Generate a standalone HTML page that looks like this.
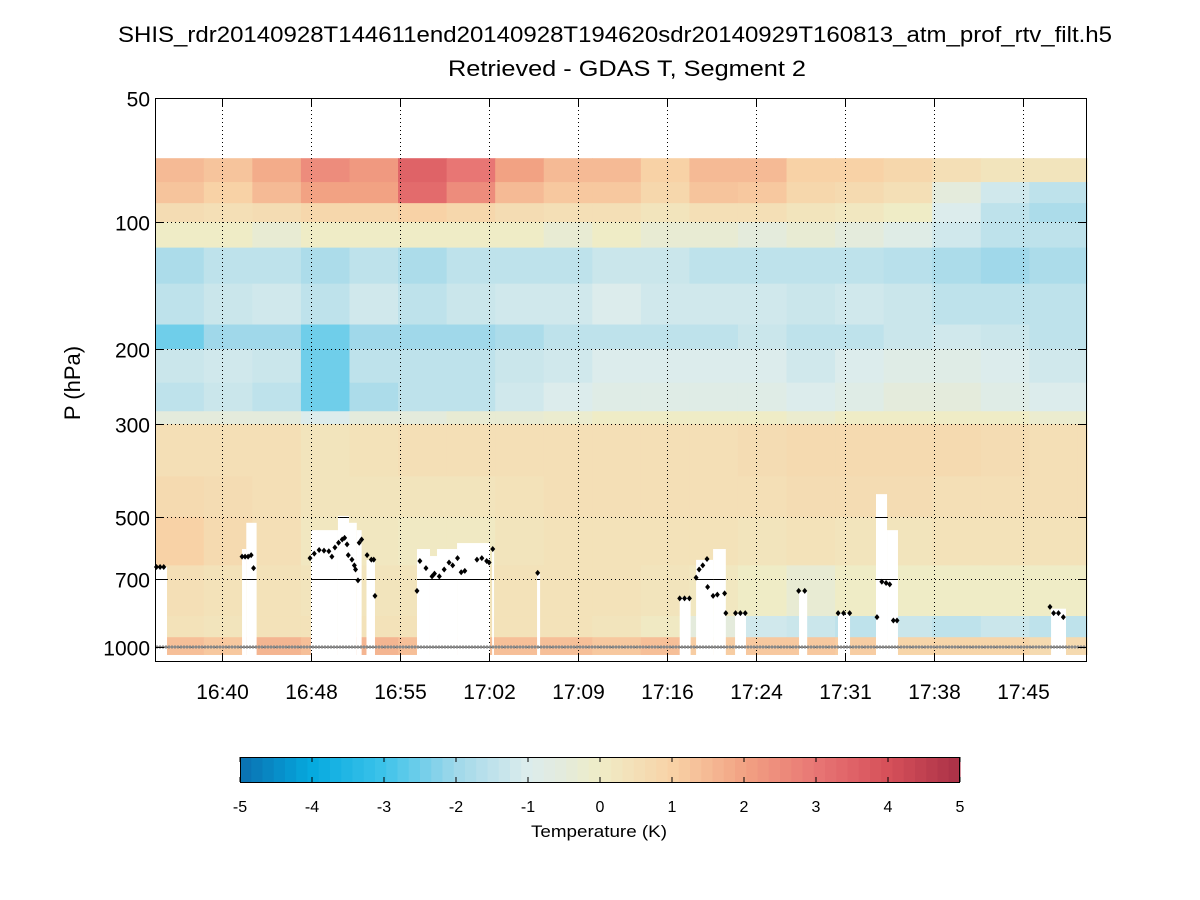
<!DOCTYPE html>
<html><head><meta charset="utf-8"><style>
body{margin:0;background:#fff;}
svg{display:block;font-family:"Liberation Sans",sans-serif;}
</style></head><body>
<svg id="chart" width="1200" height="900" viewBox="0 0 1200 900">
  <text x="615" y="42" font-size="22" text-anchor="middle" textLength="994" lengthAdjust="spacingAndGlyphs">SHIS_rdr20140928T144611end20140928T194620sdr20140929T160813_atm_prof_rtv_filt.h5</text>
  <text x="627" y="76" font-size="22" text-anchor="middle" textLength="358" lengthAdjust="spacingAndGlyphs">Retrieved - GDAS T, Segment 2</text>
  <text x="0" y="0" font-size="22" text-anchor="middle" transform="translate(80,383) rotate(-90)">P (hPa)</text>
  <text x="599" y="837" font-size="17" text-anchor="middle" textLength="136" lengthAdjust="spacingAndGlyphs">Temperature (K)</text>
</svg>
<script>
// ---- data ----
const bandTops    = [70,80,90,100,115,140,175,200,240,280,300,400,500,650,850,950];
const bandBottoms = [80,90,100,115,140,175,200,240,280,300,400,500,650,850,950,1040];
const colStarts = [34.5,38.5,42.5,46.5,50.5,54.5,58.5,62.5,66.5,70.5,74.5,78.5,82.5,86.5,90.5,94.5,98.5,102.5,106.5,110.5];
const vals = [
 [1.5,1.3,1.8,2.5,2.2,3.5,3,2,1.5,1.5,1,1.5,1.5,1,1,0.8,0.5,0.3,0.3,0.3],
 [1.3,1,1.5,2,2,3.3,2.5,1.5,1.2,1.2,0.8,1.3,1.2,0.8,0.7,0.5,-0.5,-1.2,-1.5,-1.5],
 [0.6,0.5,0.6,0.8,0.8,1,0.8,0.6,0.5,0.5,0.3,0.5,0.5,0.3,0.2,0,-1,-1.5,-1.8,-1.8],
 [0,0,-0.3,0,0,0,0,0,-0.3,0,-0.3,-0.3,-0.5,-0.3,-0.5,-0.8,-1.2,-1.5,-1.5,-1.5],
 [-1.8,-1.5,-1.5,-1.8,-1.5,-1.8,-1.5,-1.5,-1.5,-1.3,-1.3,-1.5,-1.5,-1.5,-1.5,-1.6,-1.8,-2,-1.8,-1.8],
 [-1.5,-1.3,-1.2,-1.5,-1.2,-1.5,-1.3,-1.2,-1.2,-1,-1.2,-1.2,-1.2,-1.3,-1.2,-1.3,-1.5,-1.5,-1.5,-1.5],
 [-2.5,-2,-2,-2.5,-2,-2,-2,-1.8,-1.5,-1.5,-1.5,-1.5,-1.3,-1.5,-1.5,-1.3,-1.2,-1.3,-1.5,-1.5],
 [-1.3,-1.2,-1.3,-2.5,-1.5,-1.5,-1.5,-1.3,-1.2,-1,-1,-1,-1,-1.2,-1,-0.8,-0.8,-1,-1.2,-1.2],
 [-1.5,-1.3,-1.5,-2.5,-1.8,-1.5,-1.5,-1.2,-1,-0.8,-0.8,-0.8,-0.8,-1,-0.8,-0.5,-0.5,-0.8,-1,-1],
 [-0.5,-0.5,-0.5,-1,-0.5,-0.5,-0.3,-0.3,-0.2,0,0,0,0,-0.2,0,0,0,0,-0.2,-0.2],
 [0.5,0.5,0.5,0.3,0.4,0.5,0.5,0.5,0.5,0.5,0.5,0.5,0.6,0.7,0.7,0.7,0.7,0.6,0.5,0.5],
 [0.7,0.6,0.5,0.3,0.3,0.3,0.3,0.4,0.5,0.5,0.5,0.5,0.5,0.6,0.6,0.6,0.5,0.5,0.5,0.5],
 [1.0,0.7,0.5,0.2,0.2,0.1,0.1,0.3,0.4,0.4,0.4,0.4,0.3,0.4,0.3,0.3,0.4,0.4,0.4,0.4],
 [0.5,0.4,0.4,0.3,0.3,0.3,0.3,0.4,0.4,0.4,0.3,0.2,0,-0.3,0,0,0,0,0,0],
 [0.4,0.3,0.4,0.4,0.4,0.4,0.4,0.4,0.4,0.3,0.1,-0.5,-1.2,-1.3,-1.5,-1.3,-1.5,-1.3,-1.5,-1.5],
 [1.4,1.2,1.6,1.4,1.6,1.4,1.4,1.4,1.4,1.2,1.4,1.1,1.2,1.2,1.1,0.9,0.9,0.9,0.7,0.7]
];
// cloud masks: start min, end min, cloud-top pressure
const maskStart = [34.48,41.65,42.0,47.33,49.55,50.46,51.1,51.9,56.06,57.13,57.71,59.36,62.25,65.95,77.7,79.05,80.45,82.26,87.53,90.74,93.87,94.78,108.29];
const maskEnd   = [35.47,42.0,42.85,49.55,50.46,51.1,51.5,52.6,57.13,57.71,59.36,62.07,62.4,66.2,78.6,80.45,81.5,83.16,88.2,91.73,94.78,95.68,109.52];
const maskTop   = [656,595,516,537,497,516,537,631,595,618,595,576,595,677,770,631,595,837,749,837,441,537,818];
// cloud-top retrieval points
const dotT = [34.6,34.9,35.2,41.65,41.9,42.15,42.4,42.6,47.25,47.6,48.0,48.4,48.8,49.05,49.3,49.6,49.9,50.1,50.3,50.4,50.7,50.9,51.0,51.2,51.3,51.5,51.95,52.3,52.5,52.6,56.06,56.3,56.8,57.3,57.5,57.9,58.3,58.7,59.0,59.4,59.7,60.0,61.0,61.4,61.8,62.0,62.3,66.0,77.7,78.1,78.5,79.05,79.3,79.6,79.95,80.0,80.45,80.8,81.4,81.5,82.3,82.7,83.1,87.5,88.0,90.75,91.2,91.7,93.95,94.35,94.7,95.0,95.3,95.6,108.2,108.5,108.9,109.3];
const dotP = [656,656,656,620,620,620,615,660,625,610,598,600,602,620,590,575,565,560,580,615,630,650,665,705,575,565,615,630,630,765,745,635,660,690,680,690,665,640,650,625,675,670,630,625,635,640,595,677,775,775,775,695,665,650,628,730,765,760,755,837,837,837,837,745,745,837,837,837,855,710,715,720,870,870,810,837,837,855];
const xTickMin = [40,47.33,54.67,62,69.33,76.67,84,91.33,98.67,106];
const xTickLabels = ["16:40","16:48","16:55","17:02","17:09","17:16","17:24","17:31","17:38","17:45"];
const yTicks = [50,100,200,300,500,700,1000];
const cbTicks = [-5,-4,-3,-2,-1,0,1,2,3,4,5];

// ---- axes ----
const X0=155,X1=1087,Y0=98,Y1=662,T0=34.48,T1=111.25;
const yPix=[98,222,349,424,517,579,647];
function xs(t){return X0+(t-T0)*(X1-X0)/(T1-T0);}
function ys(p){
  const lp=Math.log10(p);
  for(let i=0;i<yTicks.length-1;i++){
    const a=Math.log10(yTicks[i]),b=Math.log10(yTicks[i+1]);
    if(lp<=b||i==yTicks.length-2){return yPix[i]+(lp-a)/(b-a)*(yPix[i+1]-yPix[i]);}
  }
}
const stops=[[-5,[10,111,176]],[-4,[5,170,223]],[-3,[62,195,234]],[-2,[160,216,234]],[-1,[220,236,236]],[-0.5,[228,235,220]],[0,[239,236,198]],[1,[248,210,166]],[2,[242,162,131]],[3,[232,118,116]],[4,[214,80,90]],[5,[170,48,70]]];
function color(v){
  v=Math.max(-4.99,Math.min(4.99,v));
  for(let i=0;i<stops.length-1;i++){
    if(v<=stops[i+1][0]){const f=(v-stops[i][0])/(stops[i+1][0]-stops[i][0]);const a=stops[i][1],b=stops[i+1][1];
      return `rgb(${a.map((c,k)=>Math.round(c+(b[k]-c)*f)).join(',')})`;}
  }
}
const NS="http://www.w3.org/2000/svg";
const svg=document.getElementById('chart');
function mk(tag,attrs,parent){const e=document.createElementNS(NS,tag);for(const k in attrs)e.setAttribute(k,attrs[k]);(parent||svg).appendChild(e);return e;}

// heatmap
const gH=mk('g',{});


for(let r=0;r<bandTops.length;r++){
  for(let c=0;c<colStarts.length;c++){
    const x0=xs(colStarts[c]),x1=xs(Math.min(colStarts[c]+4,T1));
    const y0=ys(bandTops[r]),y1=ys(bandBottoms[r]);
    const e=mk('rect',{x:x0,y:y0,width:x1-x0+0.5,height:y1-y0+0.5,fill:color(vals[r][c])},gH);
    
    
  }
}
// masks
const gM=mk('g',{});


for(let i=0;i<maskStart.length;i++){
  const x0=xs(maskStart[i]),x1=xs(maskEnd[i]),y0=ys(maskTop[i]),y1=ys(1040)+1;
  const e=mk('rect',{x:x0,y:y0,width:x1-x0,height:y1-y0,fill:'#fff'},gM);
  
  
  yTicks.forEach(p=>{ if(p>maskTop[i]) mk('line',{x1:x0,x2:x1,y1:Math.round(ys(p))+0.5,y2:Math.round(ys(p))+0.5,stroke:'#000','stroke-width':1},gM); });
}
// grid
const gG=mk('g',{});


xTickMin.forEach(t=>{const x=Math.round(xs(t))+0.5;mk('line',{x1:x,x2:x,y1:Y0,y2:Y1,stroke:'#000','stroke-dasharray':'1,3'},gG);});
yTicks.forEach(p=>{const y=Math.round(ys(p))+0.5;mk('line',{x1:X0,x2:X1,y1:y,y2:y,stroke:'#000','stroke-dasharray':'1,3'},gG);});
// grey surface dots
const gS=mk('g',{});


for(let x=X0+2;x<X1-1;x+=3){mk('path',{d:`M${x} ${645}l2 2l-2 2l-2 -2z`,fill:'#888'},gS);}
// black dots
const gD=mk('g',{});


for(let i=0;i<dotT.length;i++){
  const x=xs(dotT[i]),y=ys(dotP[i]);
  const e=mk('path',{d:`M${x} ${y-3}l2.5 3l-2.5 3l-2.5 -3z`,fill:'#000'},gD);
  
  
}
// axes frame & ticks
const gA=mk('g',{});


mk('rect',{x:X0+0.5,y:Y0+0.5,width:X1-X0-1,height:Y1-Y0-1,fill:'none',stroke:'#000'},gA);
xTickMin.forEach((t,i)=>{const x=Math.round(xs(t))+0.5;
  mk('line',{x1:x,x2:x,y1:Y1,y2:Y1-9,stroke:'#000'},gA);mk('line',{x1:x,x2:x,y1:Y0,y2:Y0+9,stroke:'#000'},gA);
  const tx=mk('text',{x:x,y:699,'font-size':21,'text-anchor':'middle',fill:'#000'},gA);tx.textContent=xTickLabels[i];
  
  
});
yTicks.forEach(p=>{const y=Math.round(ys(p))+0.5;
  mk('line',{x1:X0,x2:X0+9,y1:y,y2:y,stroke:'#000'},gA);mk('line',{x1:X1-9,x2:X1,y1:y,y2:y,stroke:'#000'},gA);
  const tx=mk('text',{x:150,y:y+8,'font-size':21,'text-anchor':'end',fill:'#000'},gA);tx.textContent=p;
  
  
});
// colorbar
const gC=mk('g',{});


const CB0=240,CB1=960,CBY0=757,CBY1=782,NC=64;
for(let k=0;k<NC;k++){const v=-5+(k+0.5)*10/NC;const x0=CB0+k*(CB1-CB0)/NC;
  mk('rect',{x:x0,y:CBY0,width:(CB1-CB0)/NC+0.5,height:CBY1-CBY0,fill:color(v)},gC);}
mk('rect',{x:CB0+0.5,y:CBY0+0.5,width:CB1-CB0-1,height:CBY1-CBY0,fill:'none',stroke:'#000'},gC);
cbTicks.forEach(v=>{const x=CB0+(v+5)/10*(CB1-CB0);
  mk('line',{x1:x,x2:x,y1:CBY0,y2:CBY0+5,stroke:'#000'},gC);mk('line',{x1:x,x2:x,y1:CBY1,y2:CBY1-5,stroke:'#000'},gC);
  const tx=mk('text',{x:x,y:812,'font-size':16,'text-anchor':'middle',fill:'#000'},gC);tx.textContent=v;
  
  
});
</script>
</body></html>
